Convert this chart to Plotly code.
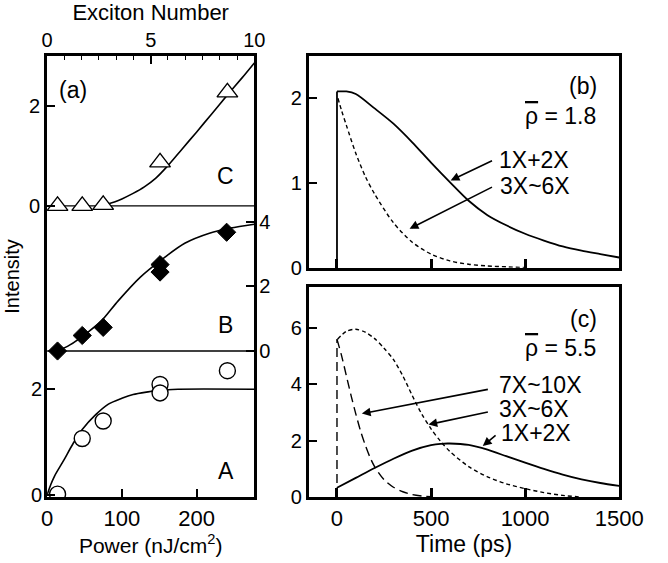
import plotly.graph_objects as go

W, H = 668, 563
FONT = "Liberation Sans, Arial, Helvetica, sans-serif"

# ---------------- Panel (a) data ----------------
power_tri = [14, 47, 75, 151, 241]
int_C = [0.0, 0.0, 0.02, 0.87, 2.27]
power_dia = [14, 47, 75, 151, 151, 240]
int_B = [0.0, 0.48, 0.73, 2.67, 2.44, 3.67]
power_circ = [14, 47, 75, 151, 151, 241]
int_A = [0.02, 1.07, 1.4, 2.09, 1.93, 2.35]

fit_C_power = [75, 90, 100, 115, 130, 145, 160, 180, 200, 220, 240, 260, 277]
fit_C = [0.02, 0.08, 0.14, 0.25, 0.38, 0.55, 0.78, 1.13, 1.48, 1.84, 2.2, 2.55, 2.86]
fit_B_power = [14, 30, 56, 73, 95, 124, 158, 184, 217, 245, 277]
fit_B = [0.0, 0.18, 0.61, 0.94, 1.55, 2.27, 2.91, 3.33, 3.64, 3.8, 3.92]
fit_A_power = [0, 5, 10, 22, 35, 47, 65, 82, 100, 115, 135, 150, 175, 277]
fit_A = [0.0, 0.2, 0.36, 0.65, 0.98, 1.24, 1.52, 1.72, 1.83, 1.9, 1.95, 1.98, 2.0, 2.0]
power_range = [0, 277]
exciton_range = [0, 10]

# ---------------- Panel (b) data (rho = 1.8) ----------------
t_b_12 = [0, 0, 50, 100, 200, 300, 400, 500, 600, 700, 800, 900, 1000, 1100, 1200, 1300, 1400, 1500]
b_12 = [0, 2.08, 2.08, 2.05, 1.88, 1.7, 1.48, 1.24, 1.01, 0.79, 0.62, 0.5, 0.4, 0.32, 0.25, 0.2, 0.16, 0.12]
t_b_36 = [5, 25, 50, 100, 150, 200, 300, 400, 500, 600, 700, 800, 900, 1000]
b_36 = [2.0, 1.85, 1.68, 1.35, 1.08, 0.87, 0.53, 0.3, 0.16, 0.08, 0.04, 0.02, 0.01, 0.0]

# ---------------- Panel (c) data (rho = 5.5) ----------------
t_c_12 = [0, 0, 100, 200, 300, 400, 500, 550, 600, 700, 800, 900, 1000, 1100, 1200, 1300, 1400, 1500]
c_12 = [0, 0.33, 0.68, 1.03, 1.36, 1.65, 1.84, 1.89, 1.9, 1.85, 1.68, 1.45, 1.22, 1.0, 0.8, 0.63, 0.5, 0.4]
t_c_36 = [3, 50, 100, 150, 200, 250, 300, 350, 400, 450, 500, 550, 600, 700, 800, 900, 1000, 1100, 1200, 1300]
c_36 = [5.6, 5.88, 5.95, 5.85, 5.62, 5.28, 4.88, 4.3, 3.6, 2.95, 2.42, 1.98, 1.62, 1.08, 0.72, 0.47, 0.3, 0.16, 0.06, 0.0]
t_c_710 = [0, 0, 25, 50, 75, 100, 125, 150, 175, 200, 250, 300, 350, 400, 450, 500]
c_710 = [0, 5.6, 5.0, 4.3, 3.6, 2.95, 2.35, 1.85, 1.42, 1.08, 0.62, 0.35, 0.19, 0.09, 0.04, 0.01]
time_range = [-150, 1500]


def xdom(l, r):
    return [l / W, r / W]


def ydom(t, b):
    return [1 - b / H, 1 - t / H]


fig = go.Figure()
blk = "black"


def line(x, y, xa, ya, width=1.6, dash="solid", shape="linear"):
    fig.add_trace(go.Scatter(x=x, y=y, xaxis=xa, yaxis=ya, mode="lines",
                             line=dict(color=blk, width=width, dash=dash, shape=shape,
                                       smoothing=0.8),
                             hoverinfo="skip"))


# panel (a) baselines
line(power_range, [0, 0], "x", "y", width=1.3)
line(power_range, [0, 0], "x", "y2", width=1.3)
# fits
line(fit_C_power, fit_C, "x", "y", shape="spline")
line(fit_B_power, fit_B, "x", "y2", shape="spline")
line(fit_A_power, fit_A, "x", "y3", shape="spline")
# markers
fig.add_trace(go.Scatter(x=power_tri, y=int_C, xaxis="x", yaxis="y", mode="markers",
                         marker=dict(symbol="triangle-up", size=18, color="white",
                                     line=dict(color=blk, width=1.4)), hoverinfo="skip"))
fig.add_trace(go.Scatter(x=power_dia, y=int_B, xaxis="x", yaxis="y2", mode="markers",
                         marker=dict(symbol="diamond", size=14, color=blk,
                                     line=dict(color=blk, width=1)), hoverinfo="skip"))
fig.add_trace(go.Scatter(x=power_circ, y=int_A, xaxis="x", yaxis="y3", mode="markers",
                         marker=dict(symbol="circle", size=16, color="white",
                                     line=dict(color=blk, width=1.4)), hoverinfo="skip"))
# invisible trace for exciton axis
fig.add_trace(go.Scatter(x=exciton_range, y=[0, 0], xaxis="x2", yaxis="y", mode="none",
                         hoverinfo="skip"))

# panel (b): vertical rise at t=0, then the smooth decay
line(t_b_12[:2], b_12[:2], "x3", "y4", width=1.8)
line(t_b_12[1:], b_12[1:], "x3", "y4", width=1.8, shape="spline")
line(t_b_36, b_36, "x3", "y4", width=1.4, dash="4px,3px", shape="spline")
# panel (c)
line(t_c_12[:2], c_12[:2], "x4", "y5", width=1.8)
line(t_c_12[1:], c_12[1:], "x4", "y5", width=1.8, shape="spline")
line(t_c_36, c_36, "x4", "y5", width=1.4, dash="4px,3px", shape="spline")
line(t_c_710[:2], c_710[:2], "x4", "y5", width=1.4, dash="9px,5px")
line(t_c_710[1:], c_710[1:], "x4", "y5", width=1.4, dash="9px,5px", shape="spline")

yfont = dict(size=20, color=blk, family=FONT)
xfont = dict(size=22, color=blk, family=FONT)
base = dict(showgrid=False, zeroline=False, ticks="inside", tickcolor=blk,
            tickfont=yfont, linecolor=blk, fixedrange=True)

# y ranges of panel (a) sub-axes (pixel-calibrated)
rng_C = [(210 - 507) / 51, (210 - 57) / 51]
rng_B = [(358 - 507) / 33, (358 - 57) / 33]
rng_A = [(505 - 507) / 54, (505 - 57) / 54]

layout = dict(
    width=W, height=H, autosize=False,
    margin=dict(l=0, r=0, t=0, b=0),
    paper_bgcolor="white", plot_bgcolor="white",
    showlegend=False,
    font=dict(family=FONT, color=blk),
    xaxis=dict(base, domain=xdom(43, 260), range=power_range, anchor="y",
               tickvals=[0, 100, 200], ticklen=8, tickwidth=1.5, tickfont=xfont,
               showline=True, linewidth=3, mirror=True,
               title=dict(text="Power (nJ/cm<sup>2</sup>)", font=dict(size=21), standoff=3)),
    xaxis2=dict(base, domain=xdom(43, 260), range=exciton_range, anchor="y",
                overlaying="x", side="top", tickvals=[0, 5, 10], ticklen=8, tickwidth=1.5,
                minor=dict(dtick=10 / 12, tick0=0, ticks="inside", ticklen=4, tickwidth=1.2,
                           tickcolor=blk),
                title=dict(text="Exciton Number", font=dict(size=22), standoff=3)),
    yaxis=dict(base, domain=ydom(57, 507), range=rng_C, anchor="x",
               tickvals=[0, 2], ticklen=8, tickwidth=1.5,
               showline=True, linewidth=3, mirror=True,
               title=dict(text="Intensity", font=dict(size=20), standoff=4)),
    yaxis2=dict(base, domain=ydom(57, 507), range=rng_B, anchor="x", overlaying="y",
                side="right", tickvals=[0, 2, 4], ticklen=8, tickwidth=1.5),
    yaxis3=dict(base, domain=ydom(57, 507), range=rng_A, anchor="x", overlaying="y",
                side="left", tickvals=[0, 2], ticklen=8, tickwidth=1.5),
    xaxis3=dict(base, domain=xdom(317, 642), range=time_range, anchor="y4",
                tickvals=[0, 500, 1000], ticklen=9, tickwidth=3, showticklabels=False,
                showline=True, linewidth=3, mirror=True),
    yaxis4=dict(base, domain=ydom(57, 273), range=[0, 2.5], anchor="x3",
                tickvals=[0, 1, 2], ticklen=8, tickwidth=2,
                showline=True, linewidth=3, mirror=True),
    xaxis4=dict(base, domain=xdom(317, 642), range=time_range, anchor="y5",
                tickvals=[0, 500, 1000, 1500], ticklen=9, tickwidth=3, tickfont=xfont,
                showline=True, linewidth=3, mirror=True,
                title=dict(text="Time (ps)", font=dict(size=23), standoff=3)),
    yaxis5=dict(base, domain=ydom(293, 507), range=[0, 7.44], anchor="x4",
                tickvals=[0, 2, 4, 6], ticklen=8, tickwidth=2,
                showline=True, linewidth=3, mirror=True),
)
fig.update_layout(**layout)

afont = dict(size=23, color=blk, family=FONT)
ann = []


def label(text, x, y, xref, yref, xanchor="center"):
    ann.append(dict(text=text, x=x, y=y, xref=xref, yref=yref, showarrow=False,
                    font=afont, xanchor=xanchor, yanchor="middle"))


def arrow(x, y, ax, ay, xref, yref):
    ann.append(dict(text="", x=x, y=y, ax=ax, ay=ay, xref=xref, yref=yref,
                    axref=xref, ayref=yref, showarrow=True, arrowhead=2,
                    arrowsize=1.1, arrowwidth=1.6, arrowcolor=blk, standoff=0))


RHO = '<span style="text-decoration:overline">\u03c1</span>'

# panel (a) labels
label("(a)", 34, 2.31, "x", "y")
label("C", 239, 0.59, "x", "y")
label("B", 239, 0.79, "x", "y2")
label("A", 239, 0.46, "x", "y3")

# panel (b)
label("(b)", 1392, 2.14, "x3", "y4", xanchor="right")
label(RHO + " = 1.8", 1385, 1.79, "x3", "y4", xanchor="right")
label("1X+2X", 848, 1.27, "x3", "y4", xanchor="left")
label("3X~6X", 855, 0.96, "x3", "y4", xanchor="left")
arrow(604, 1.03, 832, 1.27, "x3", "y4")
arrow(386, 0.46, 832, 0.96, "x3", "y4")

# panel (c)
label("(c)", 1392, 6.33, "x4", "y5", xanchor="right")
label(RHO + " = 5.5", 1385, 5.29, "x4", "y5", xanchor="right")
label("7X~10X", 851, 3.97, "x4", "y5", xanchor="left")
label("3X~6X", 851, 3.13, "x4", "y5", xanchor="left")
label("1X+2X", 861, 2.26, "x4", "y5", xanchor="left")
arrow(132, 2.96, 810, 3.83, "x4", "y5")
arrow(486, 2.57, 810, 3.03, "x4", "y5")
arrow(775, 1.81, 851, 2.23, "x4", "y5")

fig.update_layout(annotations=ann)
fig.write_html("out.html", config={"responsive": False, "displayModeBar": False},
               post_script="document.body.style.margin='0';"
                           "document.body.style.overflow='hidden';")
